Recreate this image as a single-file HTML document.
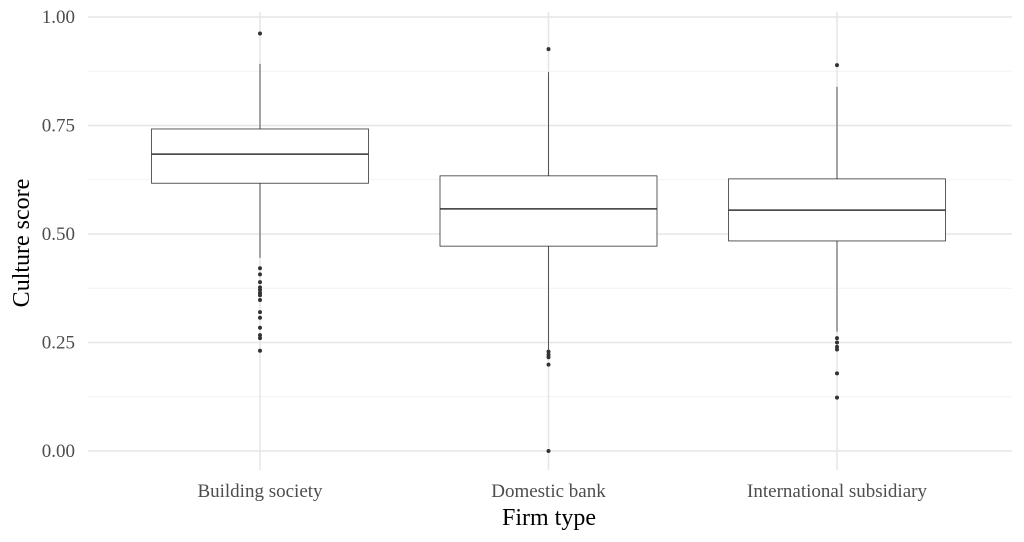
<!DOCTYPE html>
<html><head><meta charset="utf-8"><style>
body{margin:0;background:#fff}
svg{display:block;font-family:"Liberation Serif",serif}
</style></head><body>
<svg id="c" width="1024" height="542"></svg>
<script>
const categories=["Building society","Domestic bank","International subsidiary"];
const q1=[0.617,0.472,0.484];
const medians=[0.684,0.558,0.555];
const q3=[0.742,0.634,0.627];
const whiskerLow=[0.445,0.233,0.275];
const whiskerHigh=[0.892,0.873,0.839];
const outliers=[
 [0.962,0.421,0.407,0.389,0.377,0.371,0.364,0.359,0.348,0.320,0.307,0.284,0.267,0.260,0.231],
 [0.926,0.229,0.222,0.216,0.199,0.0],
 [0.889,0.260,0.250,0.240,0.234,0.179,0.123]
];
const yTicks=[0,0.25,0.5,0.75,1.0];
const yTickLabels=["0.00","0.25","0.50","0.75","1.00"];

const NS="http://www.w3.org/2000/svg";
const svg=document.getElementById('c');
const y=v=>451-v*434;
const x=i=>260+i*288.5;
const halfW=108.5;
function el(t,a,p){const e=document.createElementNS(NS,t);for(const k in a)e.setAttribute(k,a[k]);(p||svg).appendChild(e);return e;}
for(let i=0;i<4;i++){const g=el('line',{x1:88,x2:1012,y1:y(i*0.25+0.125),y2:y(i*0.25+0.125),stroke:'#f3f3f3','stroke-width':1});

}
yTicks.forEach((v,i)=>{const g=el('line',{x1:88,x2:1012,y1:y(v),y2:y(v),stroke:'#e6e6e6','stroke-width':1.5});


const t=el('text',{x:75,y:y(v)+6,'text-anchor':'end','font-size':19,fill:'#4d4d4d'});t.textContent=yTickLabels[i];

});
categories.forEach((c,i)=>{const g=el('line',{x1:x(i),x2:x(i),y1:12,y2:470,stroke:'#e6e6e6','stroke-width':1.5});


const t=el('text',{x:x(i),y:497,'text-anchor':'middle','font-size':19,fill:'#4d4d4d'});t.textContent=c;

});
categories.forEach((c,i)=>{
 const w1=el('line',{x1:x(i),x2:x(i),y1:y(q3[i]),y2:y(whiskerHigh[i]),stroke:'#333','stroke-width':0.8});
 
 
 const w2=el('line',{x1:x(i),x2:x(i),y1:y(q1[i]),y2:y(whiskerLow[i]),stroke:'#333','stroke-width':0.8});
 
 
 const b=el('rect',{x:x(i)-halfW,y:y(q3[i]),width:halfW*2,height:y(q1[i])-y(q3[i]),fill:'#fff',stroke:'#333','stroke-width':0.8});
 
 
 const m=el('line',{x1:x(i)-halfW,x2:x(i)+halfW,y1:y(medians[i]),y2:y(medians[i]),stroke:'#333','stroke-width':1.5});
 
 
 outliers[i].forEach(v=>{const p=el('circle',{cx:x(i),cy:y(v),r:2,fill:'#333'});
 
 });
});
const xt=el('text',{x:549,y:525,'text-anchor':'middle','font-size':24,fill:'#000'});xt.textContent='Firm type';


const yt=el('text',{x:0,y:0,'text-anchor':'middle','font-size':24,fill:'#000',transform:'translate(29,243) rotate(-90)'});yt.textContent='Culture score';


</script>
</body></html>
